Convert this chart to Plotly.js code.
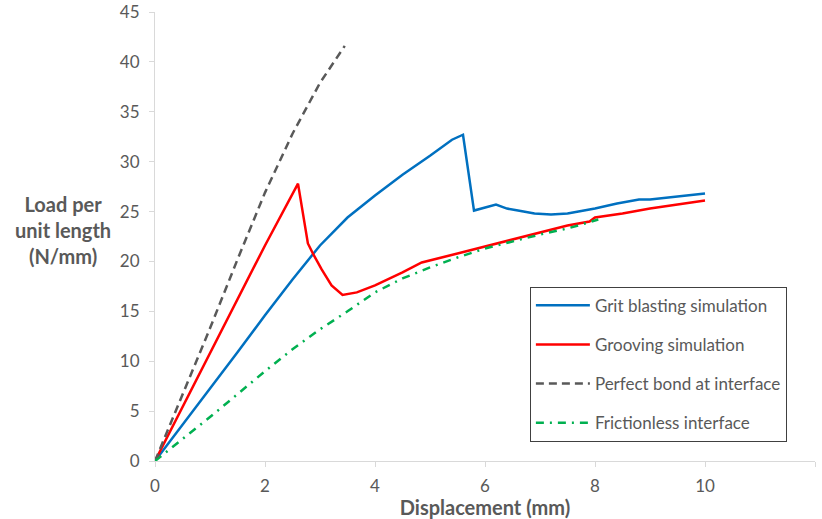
<!DOCTYPE html>
<html>
<head>
<meta charset="utf-8">
<script src="https://cdn.plot.ly/plotly-3.0.1.min.js"></script>
<style>
  html, body { margin: 0; padding: 0; background: #fff; }
  #chart { width: 822px; height: 519px; }
</style>
</head>
<body>
<div id="chart"></div>
<script>
// Load–displacement curves (displacement in mm, load in N/mm)
const gritX = [0, 0.5, 1, 1.5, 2, 2.5, 3, 3.5, 4, 4.5, 5, 5.4, 5.6, 5.8, 6.2, 6.4, 6.6, 6.9, 7.2, 7.5, 7.8, 8.0, 8.4, 8.8, 9.0, 9.5, 10];
const gritY = [0, 3.6, 7.2, 10.9, 14.6, 18.2, 21.6, 24.4, 26.6, 28.7, 30.6, 32.2, 32.7, 25.1, 25.7, 25.3, 25.1, 24.8, 24.7, 24.8, 25.1, 25.3, 25.8, 26.2, 26.2, 26.5, 26.8];

const grooveX = [0, 1, 2, 2.6, 2.78, 2.88, 3.03, 3.21, 3.41, 3.67, 4.0, 4.5, 4.85, 5.5, 6.0, 6.5, 7.0, 7.5, 7.9, 8.0, 8.5, 9.0, 9.5, 10];
const grooveY = [0, 10.8, 21.6, 27.8, 21.8, 20.7, 19.2, 17.6, 16.65, 16.9, 17.6, 18.9, 19.9, 20.8, 21.5, 22.2, 22.9, 23.6, 24.0, 24.4, 24.8, 25.3, 25.7, 26.1];

const bondX = [0, 0.5, 1, 1.5, 2, 2.5, 3, 3.45];
const bondY = [0, 6.7, 13.3, 20.2, 26.9, 32.8, 37.9, 41.6];

const frictionX = [0, 1, 2, 2.5, 3, 3.5, 4, 4.5, 5, 5.5, 6, 6.5, 7, 7.5, 8.06];
const frictionY = [0, 4.4, 9.0, 11.2, 13.2, 15.0, 16.9, 18.3, 19.4, 20.4, 21.3, 22.0, 22.7, 23.3, 24.2];

const seriesNames = ['Grit blasting simulation', 'Grooving simulation', 'Perfect bond at interface', 'Frictionless interface'];
const xTicks = [0, 2, 4, 6, 8, 10, 12];
const yTicks = [0, 5, 10, 15, 20, 25, 30, 35, 40, 45];

const textGray = '#595959';
const font = 'Lato, "Open Sans", sans-serif';

const traces = [
  { x: gritX, y: gritY, name: seriesNames[0], legendgroup: 'a',
    line: { color: '#0070C0', width: 2.5 } },
  { x: grooveX, y: grooveY, name: seriesNames[1], legendgroup: 'b',
    line: { color: '#FF0000', width: 2.5 } },
  { x: bondX, y: bondY, name: seriesNames[2], legendgroup: 'c',
    line: { color: '#595959', width: 2.5, dash: '8px,5px' } },
  { x: frictionX, y: frictionY, name: seriesNames[3], legendgroup: 'd',
    line: { color: '#00B050', width: 2.5, dash: '8px,6px,2px,6px' } }
].map(t => Object.assign({ type: 'scatter', mode: 'lines' }, t));

const layout = {
  width: 822, height: 519,
  margin: { l: 155, r: 7, t: 12, b: 58 },
  paper_bgcolor: '#fff', plot_bgcolor: '#fff',
  font: { family: font, color: textGray, size: 17 },
  showlegend: true,
  xaxis: {
    range: [0, 12], tickvals: xTicks, ticktext: xTicks.map(String),
    showgrid: false, zeroline: false,
    showline: true, linecolor: '#d9d9d9', linewidth: 1,
    ticks: 'outside', ticklen: 5, tickcolor: '#d9d9d9',
    ticklabelstandoff: 5,
    tickfont: { family: font, size: 17, color: textGray },
    title: { text: '<b>Displacement (mm)</b>', font: { family: font, size: 20, color: textGray }, standoff: 1 }
  },
  yaxis: {
    range: [0, 45], tickvals: yTicks, ticktext: yTicks.map(String),
    showgrid: false, zeroline: false,
    showline: true, linecolor: '#d9d9d9', linewidth: 1,
    ticks: 'outside', ticklen: 5, tickcolor: '#d9d9d9',
    ticklabelstandoff: 6,
    tickfont: { family: font, size: 17, color: textGray }
  },
  legend: {
    x: 0.568, y: 0.388, xanchor: 'left', yanchor: 'top',
    bgcolor: '#fff', bordercolor: '#404040', borderwidth: 1,
    font: { family: font, size: 17, color: textGray },
    tracegroupgap: 14, itemwidth: 54
  },
  annotations: [{
    xref: 'paper', yref: 'paper', x: -0.139, y: 0.515,
    xanchor: 'center', yanchor: 'middle', showarrow: false, align: 'center',
    text: '<b>Load per<br>unit length<br>(N/mm)</b>',
    font: { family: font, size: 20, color: textGray }
  }]
};

Plotly.newPlot('chart', traces, layout, { displayModeBar: false, staticPlot: true });
</script>
</body>
</html>
